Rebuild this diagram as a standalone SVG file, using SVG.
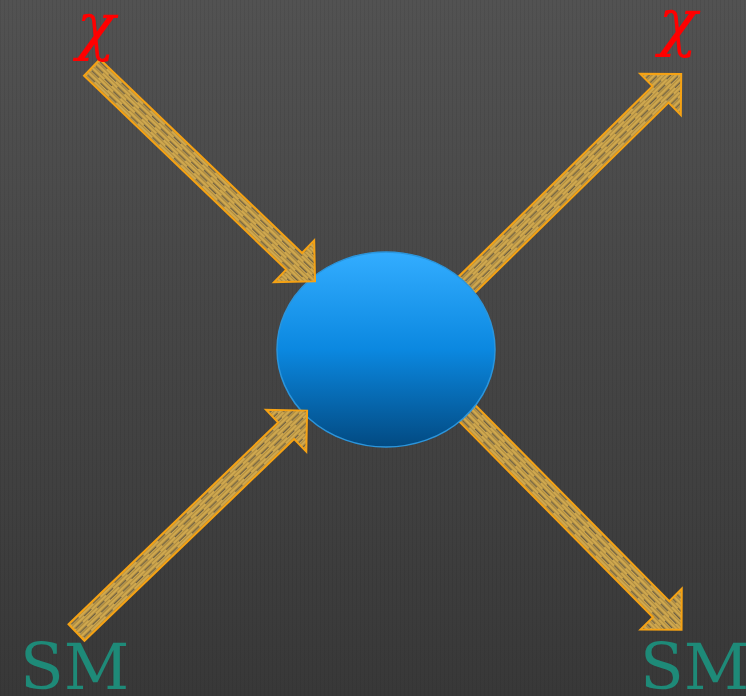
<svg xmlns="http://www.w3.org/2000/svg" width="746" height="696" viewBox="0 0 746 696">
  <defs>
    <linearGradient id="bg" x1="0" y1="0" x2="0" y2="1">
      <stop offset="0" stop-color="#525252"/>
      <stop offset="1" stop-color="#383838"/>
    </linearGradient>
    <pattern id="vstripe" width="4" height="4" patternUnits="userSpaceOnUse">
      <rect x="0" y="0" width="1" height="4" fill="#000" opacity="0.06"/>
    </pattern>
    <linearGradient id="ball" x1="0" y1="0" x2="0" y2="1">
      <stop offset="0" stop-color="#33adff"/>
      <stop offset="0.5" stop-color="#0b88e0"/>
      <stop offset="1" stop-color="#024a82"/>
    </linearGradient>
    <pattern id="wood" width="30" height="6" patternUnits="userSpaceOnUse">
      <rect width="30" height="6" fill="#cfa84f"/>
      <rect x="0" y="1" width="30" height="1" fill="#a8843c" opacity="0.8"/>
      <rect x="0" y="4" width="30" height="1" fill="#a8843c" opacity="0.8"/>
      <rect x="2" y="2.3" width="10" height="0.9" fill="#4e4a44"/>
      <rect x="17" y="5.2" width="10" height="0.9" fill="#4e4a44"/>
    </pattern>
  </defs>
  <style>
    .arr { fill: url(#wood); stroke: #f5a214; stroke-width: 2; stroke-linejoin: miter; }
    .chi { font-family: "DejaVu Serif", serif; font-style: italic; font-size: 64px; fill: #ff0000; }
    .sm { font-family: "DejaVu Serif", serif; font-size: 64px; fill: #1e8a78; }
  </style>

  <rect width="746" height="696" fill="url(#bg)"/>
  <rect width="746" height="696" fill="url(#vstripe)"/>

  <g id="connectors">
    <g id="arrow-out-top" transform="translate(466.5,285) rotate(-44.5)">
      <path class="arr" d="M0,-11.5 L272,-11.5 L272,-29 L301,0 L272,29 L272,11.5 L0,11.5 Z"/>
    </g>
    <g id="arrow-out-bottom" transform="translate(467,413) rotate(45.3)">
      <path class="arr" d="M0,-11.5 L276,-11.5 L276,-29 L305,0 L276,29 L276,11.5 L0,11.5 Z"/>
    </g>
  </g>

  <g id="vertex">
    <ellipse cx="386" cy="349.5" rx="109" ry="97.5" fill="url(#ball)" stroke="#2b95dc" stroke-width="1.5"/>
  </g>

  <g id="connectors-in">
    <g id="arrow-in-top" transform="translate(92,67.5) rotate(43.8)">
      <path class="arr" d="M0,-11.5 L280,-11.5 L280,-29 L309,0 L280,29 L280,11.5 L0,11.5 Z"/>
    </g>
    <g id="arrow-in-bottom" transform="translate(76.5,632.5) rotate(-43.9)">
      <path class="arr" d="M0,-11.5 L291,-11.5 L291,-29 L320,0 L291,29 L291,11.5 L0,11.5 Z"/>
    </g>
  </g>

  <g id="label-chi-in"><text class="chi" x="96" y="48" text-anchor="middle">χ</text></g>
  <g id="label-chi-out"><text class="chi" x="678" y="44" text-anchor="middle">χ</text></g>
  <g id="label-sm-in"><text class="sm" x="20" y="689">SM</text></g>
  <g id="label-sm-out"><text class="sm" x="640" y="689">SM</text></g>
</svg>
